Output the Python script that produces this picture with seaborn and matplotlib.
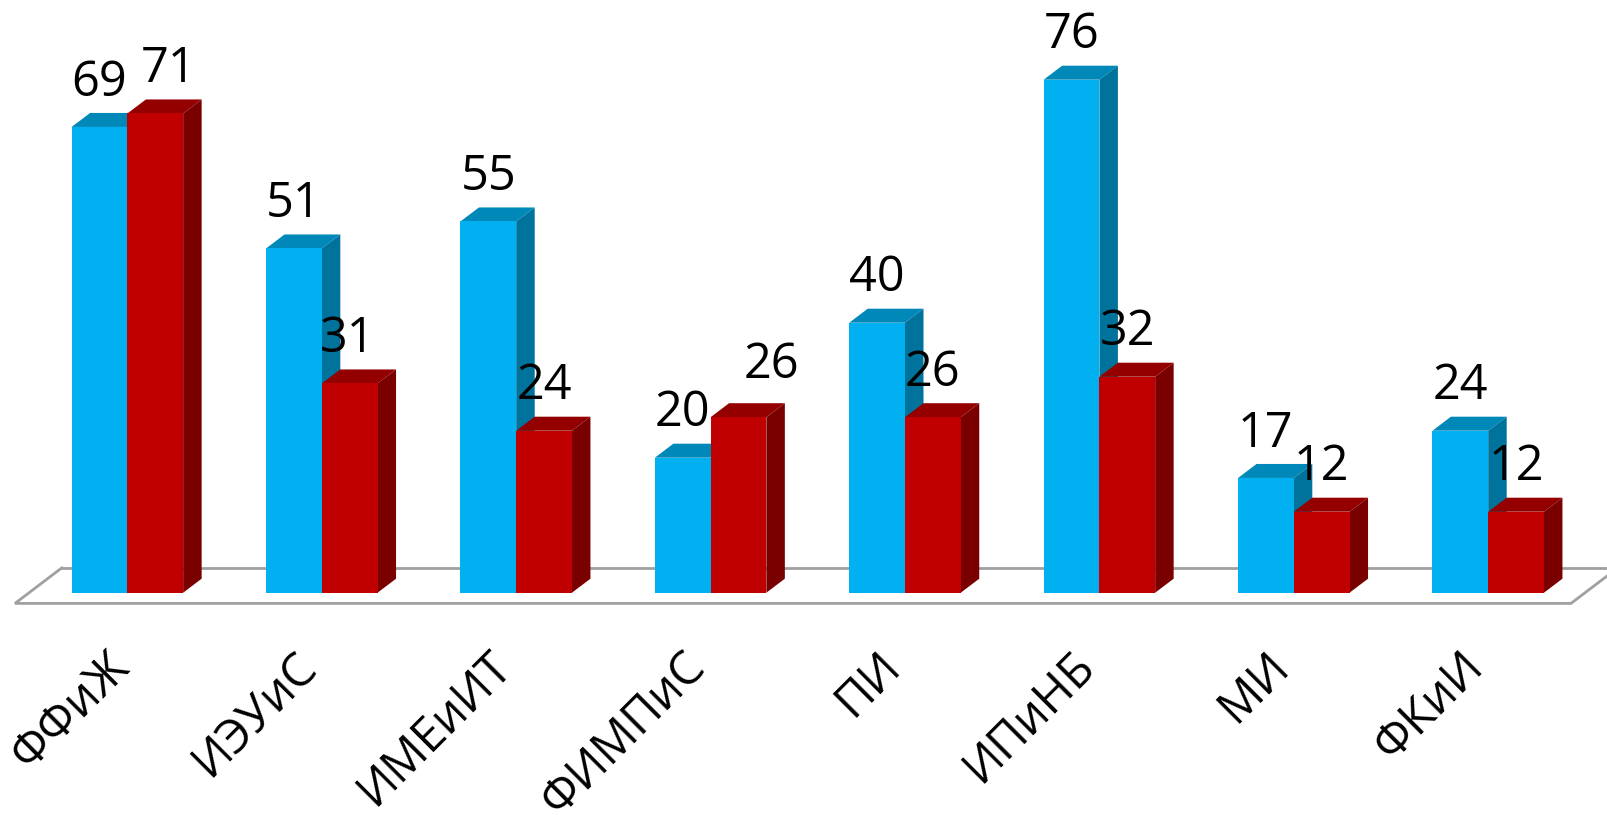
import matplotlib
matplotlib.use("Agg")
import matplotlib.pyplot as plt
from matplotlib.patches import Polygon
from matplotlib.transforms import ScaledTranslation
import pandas as pd
import seaborn as sns

categories = ["ФФиЖ", "ИЭУиС", "ИМЕиИТ", "ФИМПиС", "ПИ", "ИПиНБ", "МИ", "ФКиИ"]
series_one = [69, 51, 55, 20, 40, 76, 17, 24]
series_two = [71, 31, 24, 26, 26, 32, 12, 12]
series_names = ["Ряд 1", "Ряд 2"]

W, H, DPI = 1608, 815, 100
BASE_PX = 592.7
PX_PER_UNIT = 6.75
GROUP_PX = 194.4
FIRST_PX = 127.4
DEPTH_X_PX, DEPTH_Y_PX = 18.5, 14.0

FACE = {0: "#00B0F0", 1: "#C00000"}
TOP = {0: "#0088B9", 1: "#940000"}
SIDE = {0: "#00739C", 1: "#7A0000"}

# manual label moves (px) as placed in the original: (series, group) -> (dx, dy)
LABEL_SHIFT = {(1, 0): (13, 0), (1, 1): (-2, 0), (1, 3): (33, 8)}

sns.set_theme(style="white")
plt.rcParams["font.family"] = ["Open Sans", "DejaVu Sans"]

df = pd.DataFrame({
    "faculty": categories * 2,
    "count": series_one + series_two,
    "series": [series_names[0]] * len(categories) + [series_names[1]] * len(categories),
})

fig = plt.figure(figsize=(W / DPI, H / DPI), dpi=DPI, facecolor="white")
ax = fig.add_axes([0, (H - BASE_PX) / H, 1, BASE_PX / H])
sns.barplot(data=df, x="faculty", y="count", hue="series", order=categories,
            palette=[FACE[0], FACE[1]], saturation=1, width=2 * 55.75 / GROUP_PX,
            gap=0, dodge=True, legend=False, ax=ax, linewidth=0)

x0, x1 = -FIRST_PX / GROUP_PX, (W - FIRST_PX) / GROUP_PX
ax.set_xlim(x0, x1)
ax.set_ylim(0, BASE_PX / PX_PER_UNIT)
dx, dy = DEPTH_X_PX / GROUP_PX, DEPTH_Y_PX / PX_PER_UNIT

# floor
fy0, fy1 = -10.7 / PX_PER_UNIT, 25.0 / PX_PER_UNIT
fl = x0 + 15 / GROUP_PX
fr = x0 + 1571 / GROUP_PX
shift = 47 / GROUP_PX
ax.plot([fl + shift, x1 + 0.2], [fy1, fy1], color="#A0A0A0", lw=2.0, zorder=1, clip_on=False)
ax.plot([fl + shift, fl, fr, fr + shift], [fy1, fy0, fy0, fy1], color="#A0A0A0", lw=2.0,
        zorder=1, clip_on=False, solid_joinstyle="miter")

for s, container in enumerate(ax.containers):
    for g, bar in enumerate(container.patches):
        left, w, h = bar.get_x(), bar.get_width(), bar.get_height()
        right = left + w
        bar.set_zorder(2.1 + s)
        ax.add_patch(Polygon([(left, h), (right, h), (right + dx, h + dy), (left + dx, h + dy)],
                             closed=True, facecolor=TOP[s], edgecolor="none", zorder=2 + s))
        ax.add_patch(Polygon([(right, 0), (right + dx, dy), (right + dx, h + dy), (right, h)],
                             closed=True, facecolor=SIDE[s], edgecolor="none", zorder=2 + s))
        sx, sy = LABEL_SHIFT.get((s, g), (0, 0))
        ax.annotate(f"{int(h)}", (left + w / 2, h),
                    xytext=(sx * 72 / DPI, (44 + sy) * 72 / DPI), textcoords="offset points",
                    ha="center", va="center", fontsize=35, color="black", zorder=6,
                    annotation_clip=False)

ax.set_xlabel("")
ax.set_ylabel("")
ax.set_yticks([])
for sp in ax.spines.values():
    sp.set_visible(False)
ax.tick_params(axis="x", length=0, pad=36)
ax.set_xticks(range(len(categories)))
ax.set_xticklabels(categories, rotation=45, ha="right", va="top", rotation_mode="anchor",
                   fontsize=34, color="black")
for i, lab in enumerate(ax.get_xticklabels()):
    move = -22 if i == 0 else -29
    lab.set_transform(lab.get_transform() + ScaledTranslation(move / DPI, 0, fig.dpi_scale_trans))

fig.savefig("out.png", dpi=DPI, facecolor="white")
